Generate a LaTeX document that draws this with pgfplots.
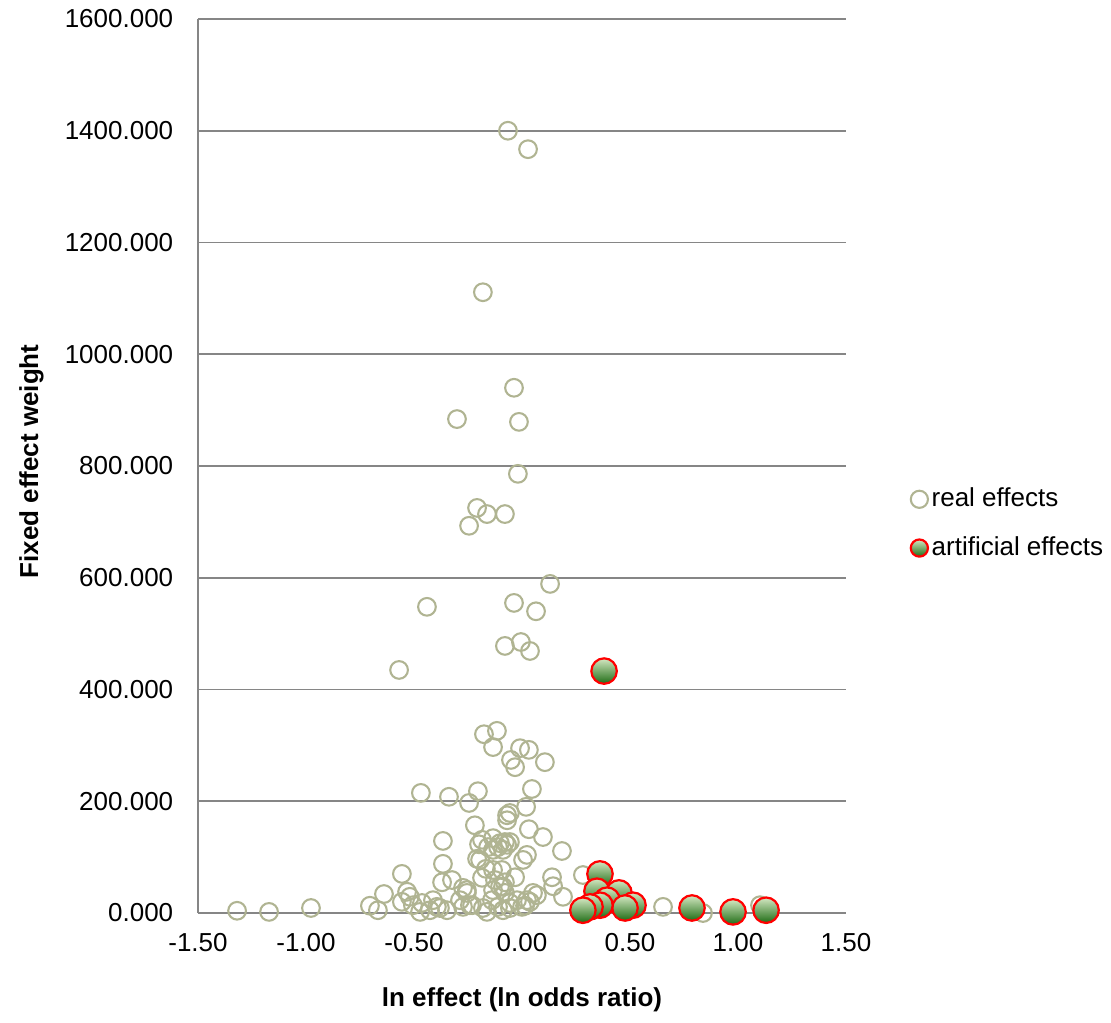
\documentclass[border=0pt]{standalone}
\usepackage{fontspec}
\setmainfont{Liberation Sans}
\usepackage{pgfplots}
\pgfplotsset{compat=1.18}
\definecolor{realc}{RGB}{176,180,146}
\definecolor{gridc}{RGB}{134,134,134}
\definecolor{gtop}{RGB}{212,232,194}
\definecolor{gbot}{RGB}{30,108,20}
\pgfdeclareverticalshading{gshade}{100bp}{color(0bp)=(gbot); color(25bp)=(gbot); color(75bp)=(gtop); color(100bp)=(gtop)}
\pgfdeclareplotmark{gball}{%
  \pgfpathcircle{\pgfpointorigin}{\pgfplotmarksize}%
  \pgfshadepath{gshade}{0}%
  \pgfpathcircle{\pgfpointorigin}{\pgfplotmarksize}%
  \pgfusepath{stroke}%
}
\pgfplotstableread{
x y
-0.065 1400
0.028 1367
-0.181 1111
-0.037 940
-0.301 884
-0.014 879
-0.019 786
-0.208 725
-0.162 714
-0.079 714
-0.245 693
0.130 589
-0.037 555
-0.440 548
0.065 540
-0.005 485
-0.079 478
0.037 469
-0.569 435
-0.116 326
-0.176 320
-0.134 297
-0.009 295
0.032 292
-0.051 274
-0.032 261
0.106 270
0.046 222
-0.468 215
-0.204 218
-0.338 208
-0.245 197
0.019 190
-0.069 175
-0.069 166
-0.218 157
0.032 150
0.097 136
-0.366 129
-0.185 131
-0.134 134
-0.102 125
-0.111 118
-0.079 127
-0.069 122
-0.088 113
-0.199 123
0.185 111
0.023 104
0.005 95
-0.366 88
-0.208 97
-0.167 79
-0.093 77
-0.556 70
-0.370 55
-0.324 59
-0.185 63
-0.125 59
-0.079 55
-0.032 64
0.139 64
0.144 48
0.282 68
-0.532 38
-0.639 34
-0.273 45
-0.255 36
-0.134 41
-0.088 47
-0.079 36
0.069 32
0.190 29
-0.704 13
-0.667 5
-0.556 20
-0.505 14
-0.463 18
-0.412 23
-0.472 2
-0.426 5
-0.380 9
-0.287 23
-0.273 11
-0.241 14
-0.181 9
-0.162 2
-0.111 11
-0.088 5
-0.056 9
0.000 11
0.014 13
0.037 20
-1.319 4
-1.171 2
-0.977 9
0.653 11
0.838 0
1.102 14
-0.255 41
-0.231 14
-0.139 23
-0.102 47
-0.056 18
-0.023 23
0.023 23
0.051 36
-0.519 29
-0.394 11
-0.347 5
-0.194 95
-0.134 77
-0.157 118
-0.056 127
-0.134 113
-0.056 179
}\realdata
\pgfplotstableread{
x y
0.380 433
0.361 70
0.347 39
0.449 36
0.394 23
0.514 14
0.477 9
0.361 14
0.315 11
0.282 5
0.787 9
0.977 2
1.130 5
}\artdata
\begin{document}
\begin{tikzpicture}
\begin{axis}[
  name=ax,
  scale only axis,
  width=249.23pt, height=343.85pt,
  xmin=-1.5, xmax=1.5, ymin=0, ymax=1600,
  xtick={-1.5,-1,-0.5,0,0.5,1,1.5},
  xticklabels={-1.50,-1.00,-0.50,0.00,0.50,1.00,1.50},
  ytick={0,200,400,600,800,1000,1200,1400,1600},
  yticklabels={0.000,200.000,400.000,600.000,800.000,1000.000,1200.000,1400.000,1600.000},
  major tick length=0pt,
  axis lines*=left,
  axis line style={draw=gridc, line width=0.75pt},
  ymajorgrids,
  grid style={draw=gridc, line width=0.75pt},
  xticklabel style={yshift=-4.2pt},
  yticklabel style={xshift=-6pt},
  xlabel={\textbf{ln effect (ln odds ratio)}},
  ylabel={\textbf{Fixed effect weight}},
  x label style={at={(axis description cs:0.5,-0.0973)}, anchor=center},
  y label style={at={(axis description cs:-0.2570,0.505)}, anchor=center},
  clip=false,
  legend style={draw=none, fill=none, at={(1.0975,0.4355)}, anchor=west, inner sep=0pt, row sep=6pt, nodes={inner xsep=1pt}},
  legend cell align=left,
  legend image code/.code={\draw[#1, mark size=3.3pt] plot coordinates {(3.3pt,0pt)};},
]
\addplot[only marks, mark=o, mark size=3.4pt, mark options={draw=realc, line width=0.8pt}] table {\realdata};
\addlegendentry{real effects}
\addplot[only marks, mark=gball, mark size=4.9pt, mark options={draw=red, line width=0.85pt}] table {\artdata};
\addlegendentry{artificial effects}
\end{axis}
\pgfresetboundingbox
\path (ax.south west) ++(-76.15pt,-41.92pt) rectangle ++(427.31pt,393.08pt);
\end{tikzpicture}
\end{document}
